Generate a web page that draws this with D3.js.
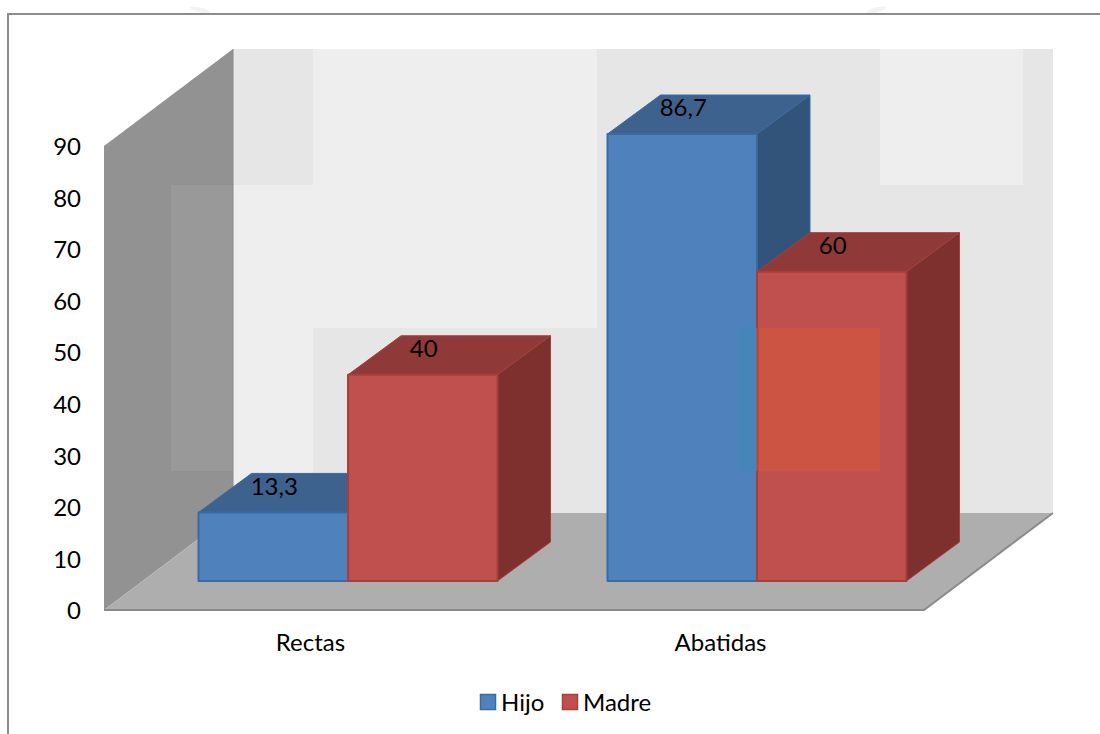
<!DOCTYPE html>
<html>
<head>
<meta charset="utf-8">
<script src="https://cdn.jsdelivr.net/npm/d3@7"></script>
<style>
html,body{margin:0;padding:0;background:#fff;overflow:hidden}
svg{display:block}
text{font-family:Lato,"Open Sans",sans-serif;fill:#000}
</style>
</head>
<body>
<svg id="chart" width="1100" height="734"></svg>
<script>
const categories = ["Rectas", "Abatidas"];
const seriesNames = ["Hijo", "Madre"];
const hijo = [13.3, 86.7];
const madre = [40, 60];
const yTicks = [0, 10, 20, 30, 40, 50, 60, 70, 80, 90];

const faces = {
  Hijo:  {front: "#4f81bd", top: "#3e628e", side: "#32547b", stroke: "#3b6aa3"},
  Madre: {front: "#c0504d", top: "#8f3a38", side: "#7d302e", stroke: "#a53f3c"}
};

const svg = d3.select("#chart");
const FONT = 24;

const y = d3.scaleLinear().domain([0, 90]).range([610, 146]);
const x0 = d3.scaleBand().domain(categories).range([88.5, 1016.5]).paddingInner(0.269).paddingOuter(0.269);
const x1 = d3.scaleBand().domain(seriesNames).range([0, x0.bandwidth()]);
const wallDepth = {dx: 129, dy: -97};
const barDepth = {dx: 53, dy: -39};
const barBaseShift = -29;
const plotLeft = 104, plotRight = 924;
const fmt = d3.formatLocale({decimal: ",", thousands: ".", grouping: [3], currency: ["", ""]}).format("~r");

const poly = pts => pts.map(p => p.join(",")).join(" ");

// stray marks above the frame
const smudges = svg.append("g").attr("fill", "#f3f3f3");
smudges.append("ellipse").attr("cx", 200).attr("cy", 10).attr("rx", 10).attr("ry", 2.5).attr("transform", "rotate(14 200 10)");
smudges.append("ellipse").attr("cx", 876).attr("cy", 10).attr("rx", 10).attr("ry", 2.5).attr("transform", "rotate(-14 876 10)");

// frame (runs off the right and bottom of the picture)
svg.append("path").attr("d", "M8,734V14H1100").attr("fill", "none").attr("stroke", "#8c8c8c").attr("stroke-width", 2);

// back wall
const wallTop = y(90) + wallDepth.dy, wallBottom = y(0) + wallDepth.dy;
const wallL = plotLeft + wallDepth.dx, wallR = plotRight + wallDepth.dx;
svg.append("rect").attr("x", wallL).attr("y", wallTop).attr("width", wallR - wallL).attr("height", wallBottom - wallTop).attr("fill", "#e6e6e6");
[[313, 49, 597, 328], [233, 185, 313, 513], [880, 49, 1023, 185]].forEach(r => {
  svg.append("rect").attr("x", r[0]).attr("y", r[1]).attr("width", r[2] - r[0]).attr("height", r[3] - r[1]).attr("fill", "#eeeeee");
});

// left wall
svg.append("polygon")
  .attr("points", poly([[plotLeft, y(90)], [wallL, wallTop], [wallL, wallBottom], [plotLeft, y(0)]]))
  .attr("fill", "#929292");
svg.append("rect").attr("x", 171).attr("y", 185).attr("width", 62).attr("height", 286).attr("fill", "#999999");
svg.append("line").attr("x1", wallL).attr("x2", wallL).attr("y1", wallTop).attr("y2", wallBottom).attr("stroke", "#8a8a8a").attr("stroke-width", 1);

// floor
svg.append("polygon")
  .attr("points", poly([[plotLeft, y(0)], [wallL, wallBottom], [wallR, wallBottom], [plotRight, y(0)]]))
  .attr("fill", "#aeaeae");
svg.append("polyline")
  .attr("points", poly([[plotLeft, y(0)], [plotRight, y(0)], [wallR, wallBottom]]))
  .attr("fill", "none").attr("stroke", "#8b8b8b").attr("stroke-width", 2);

// bars
const rows = [];
categories.forEach((c, i) => {
  rows.push({cat: c, s: "Hijo", v: hijo[i]});
  rows.push({cat: c, s: "Madre", v: madre[i]});
});
const bars = svg.append("g").selectAll("g").data(rows).join("g")
  .attr("stroke-linejoin", "round");
const bx = d => x0(d.cat) + x1(d.s);
const bw = x1.bandwidth();
const yb = v => y(v) + barBaseShift;

bars.append("polygon")
  .attr("points", d => poly([[bx(d), yb(d.v)], [bx(d) + barDepth.dx, yb(d.v) + barDepth.dy],
    [bx(d) + bw + barDepth.dx, yb(d.v) + barDepth.dy], [bx(d) + bw, yb(d.v)]]))
  .attr("fill", d => faces[d.s].top).attr("stroke", d => faces[d.s].stroke).attr("stroke-width", 1);
bars.append("polygon")
  .attr("points", d => poly([[bx(d) + bw, yb(d.v)], [bx(d) + bw + barDepth.dx, yb(d.v) + barDepth.dy],
    [bx(d) + bw + barDepth.dx, yb(0) + barDepth.dy], [bx(d) + bw, yb(0)]]))
  .attr("fill", d => faces[d.s].side).attr("stroke", d => faces[d.s].stroke).attr("stroke-width", 1);
bars.append("rect")
  .attr("x", bx).attr("y", d => yb(d.v)).attr("width", bw).attr("height", d => yb(0) - yb(d.v))
  .attr("fill", d => faces[d.s].front).attr("stroke", d => faces[d.s].stroke).attr("stroke-width", 2);

// tinted patch over the bars of the second group
svg.append("rect").attr("x", 738).attr("y", 328).attr("width", 19).attr("height", 143).attr("fill", "#4585b8");
svg.append("rect").attr("x", 757).attr("y", 328).attr("width", 123).attr("height", 143).attr("fill", "#cc5443");
svg.append("line").attr("x1", 757.5).attr("x2", 757.5).attr("y1", 328).attr("y2", 471).attr("stroke", "#bd4238").attr("stroke-width", 2);

// data labels
svg.append("g").selectAll("text").data(rows).join("text")
  .attr("x", d => bx(d) + bw / 2 + 1)
  .attr("y", d => yb(d.v) - 26)
  .attr("dy", "0.35em")
  .attr("text-anchor", "middle")
  .attr("font-size", FONT)
  .text(d => fmt(d.v));

// value axis
const yAxis = svg.append("g").attr("transform", "translate(84,1)")
  .call(d3.axisLeft(y).tickValues(yTicks).tickSize(0).tickPadding(3));
yAxis.select(".domain").remove();
yAxis.selectAll("text").attr("font-size", FONT).attr("font-family", "Lato,'Open Sans',sans-serif");

// category labels
const xLabel = d3.scalePoint().domain(categories).range([310, 720]);
const xAxis = svg.append("g").attr("transform", "translate(0,634)")
  .call(d3.axisBottom(xLabel).tickSize(0).tickPadding(0));
xAxis.select(".domain").remove();
xAxis.selectAll("text").attr("font-size", FONT).attr("font-family", "Lato,'Open Sans',sans-serif");

// legend
const legendX = d3.scaleOrdinal().domain(seriesNames).range([480, 562]);
const legend = svg.append("g").selectAll("g").data(seriesNames).join("g")
  .attr("transform", d => `translate(${legendX(d)},694)`);
legend.append("rect").attr("x", 0.5).attr("y", 0.5).attr("width", 15).attr("height", 15)
  .attr("fill", d => faces[d].front).attr("stroke", d => faces[d].stroke).attr("stroke-width", 1.5);
legend.append("text").attr("x", 21).attr("y", 9).attr("dy", "0.35em").attr("font-size", FONT).text(d => d);
</script>
</body>
</html>
